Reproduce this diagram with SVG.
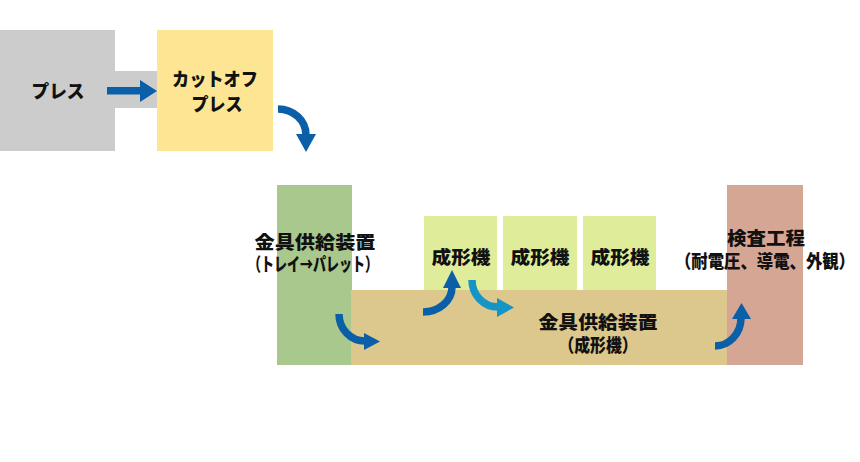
<svg xmlns="http://www.w3.org/2000/svg" width="860" height="462" viewBox="0 0 860 462">
<style>
.t{font-family:"Noto Sans CJK JP","Noto Sans CJK SC",sans-serif;font-weight:900;font-size:18.5px;fill:#111;text-anchor:middle}
.sh{fill:none;stroke:#0b5ea8;stroke-width:7.5}
.hd{fill:#0b5ea8}
.sh2{fill:none;stroke:#1594c6;stroke-width:7.5}
.hd2{fill:#1594c6}
</style>
<rect width="860" height="462" fill="#fff"/>
<g id="press">
<rect x="0" y="30" width="115" height="121" fill="#cccccc"/>
<rect x="114" y="71" width="44" height="37" fill="#cccccc"/>
<text class="t" x="58" y="98" textLength="53" lengthAdjust="spacingAndGlyphs">プレス</text>
</g>
<g id="cutoff-press">
<rect x="157" y="30" width="116" height="121" fill="#fde593"/>
<text class="t" x="215" y="86" textLength="86" lengthAdjust="spacingAndGlyphs">カットオフ</text>
<text class="t" x="217" y="111" textLength="51" lengthAdjust="spacingAndGlyphs">プレス</text>
</g>
<g id="feeder-tray">
<rect x="277" y="185" width="75" height="180" fill="#a9c88e"/>
</g>
<g id="feeder-molding">
<rect x="351" y="290" width="377" height="75" fill="#dcc78c"/>
<text class="t" x="598" y="329" textLength="119" lengthAdjust="spacingAndGlyphs">金具供給装置</text>
<text class="t" x="598" y="352" textLength="79" lengthAdjust="spacingAndGlyphs">（成形機）</text>
</g>
<g id="molding1">
<rect x="424" y="216" width="73" height="74" fill="#dfed9a"/>
<text class="t" x="461" y="264" textLength="59" lengthAdjust="spacingAndGlyphs">成形機</text>
</g>
<g id="molding2">
<rect x="503" y="216" width="74" height="74" fill="#dfed9a"/>
<text class="t" x="540" y="264" textLength="59" lengthAdjust="spacingAndGlyphs">成形機</text>
</g>
<g id="molding3">
<rect x="583" y="216" width="73" height="74" fill="#dfed9a"/>
<text class="t" x="620" y="264" textLength="59" lengthAdjust="spacingAndGlyphs">成形機</text>
</g>
<g id="inspection">
<rect x="727" y="185" width="76" height="180" fill="#d6a694"/>
<text class="t" x="766" y="245" textLength="78" lengthAdjust="spacingAndGlyphs">検査工程</text>
<text class="t" x="765" y="268" textLength="180" lengthAdjust="spacingAndGlyphs">（耐電圧、導電、外観）</text>
</g>
<g id="feeder-tray-label">
<text class="t" x="315" y="249" textLength="121" lengthAdjust="spacingAndGlyphs">金具供給装置</text>
<text class="t" x="313" y="271" textLength="130" lengthAdjust="spacingAndGlyphs">（トレイ→パレット）</text>
</g>
<g id="connectors">
<rect x="107" y="87" width="34" height="7.5" class="hd"/>
<polygon class="hd" points="140,80 157,91 140,102"/>
<path class="sh" d="M278,109 A28,26 0 0 1 306,135"/>
<polygon class="hd" points="296,134 316,134 306,152"/>
<path class="sh" d="M339,314 A26,27 0 0 0 365,341"/>
<polygon class="hd" points="364,333 364,350 380,341.5"/>
<path class="sh" d="M423,312 A29,25 0 0 0 452,287"/>
<polygon class="hd" points="443,288 461,288 452,270"/>
<path class="sh2" d="M472,280 A26,27 0 0 0 498,307"/>
<polygon class="hd2" points="497,298 497,317 514,307.5"/>
<path class="sh" d="M715,346 A26,28 0 0 0 741,318"/>
<polygon class="hd" points="732,319 751,319 741.5,303"/>
</g>
</svg>
